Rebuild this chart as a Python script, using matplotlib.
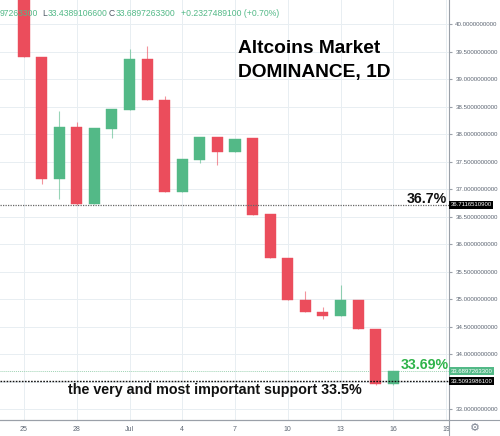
import matplotlib
matplotlib.use("Agg")
import matplotlib.pyplot as plt
import matplotlib.transforms as mtransforms
from matplotlib.lines import Line2D

# ---------------- data ----------------
day_index = list(range(22))  # Jun 25 .. Jul 16
opens  = [40.70, 39.40, 37.18, 38.13, 36.73, 38.09, 38.44, 39.36, 38.62, 36.95, 37.53,
          37.94, 37.67, 37.93, 36.55, 35.75, 34.98, 34.76, 34.69, 34.98, 34.45, 33.457]
highs  = [40.80, 39.40, 38.42, 38.22, 38.11, 38.45, 39.55, 39.60, 38.69, 37.55, 37.94,
          37.94, 37.91, 37.93, 36.55, 35.75, 35.15, 34.85, 35.25, 34.98, 34.45, 33.69]
lows   = [39.40, 37.09, 36.82, 36.71, 36.73, 37.93, 38.44, 38.62, 36.95, 36.95, 37.47,
          37.44, 37.67, 36.53, 35.75, 34.98, 34.76, 34.63, 34.69, 34.45, 33.44, 33.439]
closes = [39.40, 37.18, 38.13, 36.73, 38.11, 38.45, 39.36, 38.62, 36.95, 37.55, 37.94,
          37.67, 37.91, 36.53, 35.75, 34.98, 34.76, 34.69, 34.98, 34.45, 33.457, 33.6897]

xtick_pos = [0, 3, 6, 9, 12, 15, 18, 21, 24]
xtick_labels = ["25", "28", "Jul", "4", "7", "10", "13", "16", "19"]
ytick_vals = [33.0, 33.5, 34.0, 34.5, 35.0, 35.5, 36.0, 36.5, 37.0, 37.5,
              38.0, 38.5, 39.0, 39.5, 40.0]

level_367 = 36.7116510900
level_support = 33.5093986100
last_close = 33.6897263300

header_parts = [("97263300", "#53b987"), ("L", "#4f5966"), ("33.4389106600", "#53b987"),
                ("C", "#4f5966"), ("33.6897263300", "#53b987"),
                ("+0.2327489100 (+0.70%)", "#53b987")]

# ---------------- figure ----------------
W, H = 500, 436
fig = plt.figure(figsize=(W / 100, H / 100), dpi=100)
fig.patch.set_facecolor("white")
ax = fig.add_axes([0, 16 / H, 449 / W, 420 / H])
ax.set_facecolor("white")

UP, DOWN = "#53b987", "#eb4d5c"
GRID = "#e8eef2"
AXC = "#9aa0a8"
FONT = "Liberation Sans"

ax.set_xlim(-1.365, 24.17)
ax.set_ylim(32.8, 40.44)

for s in ["left", "top"]:
    ax.spines[s].set_visible(False)
ax.spines["right"].set_color(AXC)
ax.spines["bottom"].set_color(AXC)
ax.spines["right"].set_linewidth(0.8)
ax.spines["bottom"].set_linewidth(0.8)

# tick label at 33.5 is hidden behind the support price label box in the reference
ylabels = ["" if abs(v - 33.5) < 1e-9 else f"{v:.10f}" for v in ytick_vals]

ax.set_xticks(xtick_pos)
ax.set_xticklabels(xtick_labels, fontsize=5, color="#5d6673", family=FONT)
ax.set_yticks(ytick_vals)
ax.set_yticklabels(ylabels, fontsize=4.4, color="#5d6673", family=FONT)
ax.yaxis.tick_right()
ax.tick_params(axis="y", length=2.5, color=AXC, pad=2)
ax.tick_params(axis="x", length=0, pad=4)
ax.grid(True, color=GRID, linewidth=0.7)
ax.set_axisbelow(True)

# candles
for x, o, h, l, c in zip(day_index, opens, highs, lows, closes):
    col = UP if c >= o else DOWN
    ax.vlines(x, l, h, color=col, linewidth=0.8, alpha=0.6, zorder=2)
    ax.bar(x, abs(c - o), bottom=min(o, c), width=0.63, color=col, edgecolor=col,
           linewidth=0.3, zorder=3)

# horizontal lines
ax.axhline(level_367, color="#666666", linestyle=(0, (1, 1)), linewidth=0.9, zorder=4)
ax.axhline(level_support, color="#111111", linestyle=(0, (1.2, 1)), linewidth=1.0, zorder=4)
ax.axhline(last_close, color="#9fd3b4", linestyle=(0, (1, 1)), linewidth=0.7, zorder=1)

# price labels on right axis
tr = mtransforms.blended_transform_factory(ax.transAxes, ax.transData)
for val, fc in [(level_367, "black"), (last_close, "#53b987"), (level_support, "black")]:
    ax.text(1.004, val, f"{val:.10f}", transform=tr, ha="left", va="center",
            fontsize=4.3, color="white", family=FONT, clip_on=False, zorder=6,
            bbox=dict(boxstyle="square,pad=0.22", fc=fc, ec="none"))

# extended axis lines
fig.add_artist(Line2D([0, 1], [16 / H, 16 / H], transform=fig.transFigure, color=AXC, lw=0.8))
fig.add_artist(Line2D([449 / W, 449 / W], [0, 16 / H], transform=fig.transFigure, color=AXC, lw=0.8))
fig.text(475 / W, 8 / H, "\u2699", ha="center", va="center", fontsize=8, color="#7a8290",
         family="DejaVu Sans")

# header
xs = [0, 42, 47.5, 109, 115.5, 181]
for (txt, col), xp in zip(header_parts, xs):
    fig.text(xp / W, 1 - 16 / H, txt, color=col, fontsize=6.2, family=FONT, va="baseline")

# annotations
fig.text(238 / W, 1 - 53 / H, "Altcoins Market", fontsize=13.8, fontweight="bold",
         family=FONT, va="baseline", color="black")
fig.text(238 / W, 1 - 77 / H, "DOMINANCE, 1D", fontsize=13.8, fontweight="bold",
         family=FONT, va="baseline", color="black")
fig.text(447 / W, 1 - 203 / H, "36.7%", fontsize=10.2, fontweight="bold", family=FONT,
         ha="right", va="baseline", color="#111111")
fig.text(449 / W, 1 - 369 / H, "33.69%", fontsize=10.2, fontweight="bold", family=FONT,
         ha="right", va="baseline", color="#2fb34a")
fig.text(68 / W, 1 - 394 / H, "the very and most important support 33.5%", fontsize=10.3,
         fontweight="bold", family=FONT, va="baseline", color="#111111")

fig.savefig("out.png", dpi=100)
